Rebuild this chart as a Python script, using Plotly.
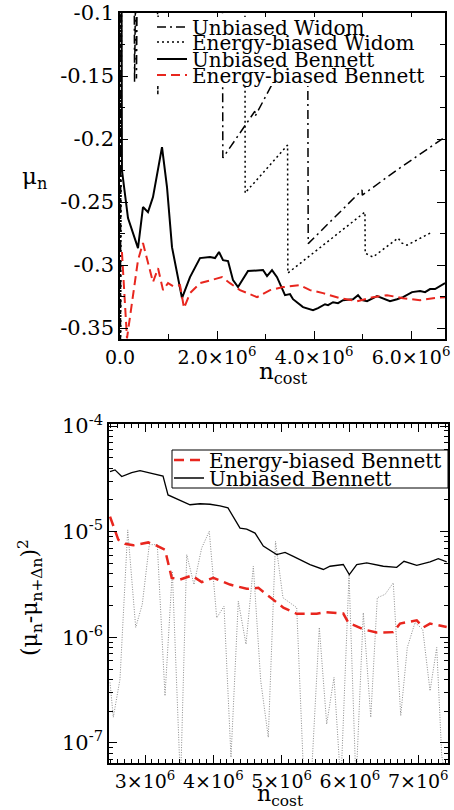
import numpy as np
import plotly.graph_objects as go

# ---------------- data: top panel (n_cost in units of 1e6) ----------------
ub_top_x = [0.03, 0.04, 0.165, 0.371, 0.474, 0.577, 0.680, 0.866, 0.969, 1.072,
            1.278, 1.340, 1.443, 1.649, 1.856, 1.959, 2.041, 2.124, 2.227, 2.330,
            2.433, 2.639, 2.948, 3.031, 3.134, 3.237, 3.402, 3.505, 3.567, 3.773,
            3.979, 4.083, 4.227, 4.289, 4.392, 4.495, 4.598, 4.804, 4.907, 4.990,
            5.093, 5.299, 5.567, 5.711, 5.835, 6.021, 6.186, 6.289, 6.392, 6.495, 6.701]
ub_top_y = [-0.05, -0.2246, -0.2628, -0.2866, -0.2540, -0.2580, -0.2461, -0.2064, -0.2381, -0.2858,
            -0.3263, -0.3199, -0.3096, -0.2945, -0.2937, -0.2945, -0.2897, -0.2961, -0.2969, -0.3120,
            -0.3175, -0.3048, -0.3040, -0.3088, -0.3040, -0.3096, -0.3239, -0.3231, -0.3271, -0.3334,
            -0.3358, -0.3342, -0.3311, -0.3318, -0.3295, -0.3303, -0.3279, -0.3271, -0.3239, -0.3279,
            -0.3287, -0.3247, -0.3287, -0.3271, -0.3255, -0.3215, -0.3207, -0.3215, -0.3191, -0.3191, -0.3144]

eb_top_x = [0.04, 0.144, 0.371, 0.474, 0.680, 0.784, 0.887, 0.990, 1.093, 1.237,
            1.320, 1.443, 1.649, 1.897, 2.103, 2.268, 2.474, 2.825, 3.093, 3.361,
            3.711, 3.918, 4.186, 4.536, 4.887, 5.216, 5.505, 5.835, 6.186, 6.454, 6.701]
eb_top_y = [-0.2897, -0.3581, -0.2961, -0.2826, -0.3136, -0.3025, -0.3199, -0.3144, -0.3168, -0.3160,
            -0.3342, -0.3223, -0.3144, -0.3120, -0.3096, -0.3144, -0.3199, -0.3255, -0.3199, -0.3175,
            -0.3160, -0.3199, -0.3223, -0.3263, -0.3287, -0.3255, -0.3239, -0.3263, -0.3279, -0.3263, -0.3255]

uw_x = [0.005, 0.02, 0.29, 0.30, 0.31, 0.33, 0.34, 0.36, 2.11, 2.12,
        2.78, 2.785, 3.13, 3.87, 3.88, 4.99, 4.995, 5.71, 6.70]
uw_y = [-0.5, -0.05, -0.05, -0.155, -0.05, -0.05, -0.152, -0.05, -0.05, -0.215,
        -0.178, -0.182, -0.157, -0.115, -0.283, -0.2405, -0.2445, -0.2246, -0.1984]

ew_x = [0.0, 0.012, 0.035, 0.77, 0.78, 0.79, 2.575, 2.58, 2.62, 3.455,
        3.46, 5.05, 5.055, 5.216, 5.732, 5.814, 5.918, 6.433]
ew_y = [-0.05, -0.40, -0.05, -0.05, -0.165, -0.05, -0.05, -0.243, -0.241, -0.2048,
        -0.3064, -0.258, -0.2906, -0.2937, -0.2786, -0.2826, -0.2842, -0.2739]

# ---------------- data: bottom panel ----------------
ub_bot_x = [2.488, 2.561, 2.659, 2.805, 2.927, 3.073, 3.220, 3.264, 3.337, 3.512,
            3.659, 3.805, 3.952, 4.098, 4.215, 4.391, 4.489, 4.611, 4.732, 4.928,
            5.050, 5.171, 5.416, 5.611, 5.709, 5.903, 5.991, 6.100, 6.246, 6.489,
            6.685, 6.792, 6.978, 7.173, 7.294, 7.417]
ub_bot_y = [3.71e-5, 3.85e-5, 3.33e-5, 3.62e-5, 3.78e-5, 3.62e-5, 3.45e-5, 3.37e-5, 2.23e-5, 2.00e-5,
            1.80e-5, 1.84e-5, 1.82e-5, 1.76e-5, 1.68e-5, 1.08e-5, 1.06e-5, 9.7e-6, 7.3e-6, 6.07e-6,
            6.38e-6, 5.85e-6, 4.89e-6, 4.39e-6, 4.71e-6, 4.89e-6, 3.93e-6, 4.89e-6, 5.07e-6, 4.71e-6,
            4.60e-6, 5.25e-6, 4.81e-6, 5.18e-6, 5.56e-6, 5.18e-6]

eb_bot_x = [2.488, 2.609, 2.707, 2.829, 3.048, 3.171, 3.293, 3.391, 3.512, 3.684,
            3.830, 4.000, 4.244, 4.489, 4.659, 4.855, 5.025, 5.221, 5.514, 5.635,
            5.903, 5.977, 6.196, 6.392, 6.635, 6.734, 6.978, 7.075, 7.173, 7.417]
eb_bot_y = [1.39e-5, 8.4e-6, 7.7e-6, 7.43e-6, 7.92e-6, 7.38e-6, 6.76e-6, 3.66e-6, 3.52e-6, 3.85e-6,
            3.33e-6, 3.66e-6, 3.16e-6, 2.88e-6, 2.94e-6, 2.33e-6, 1.91e-6, 1.67e-6, 1.67e-6, 1.73e-6,
            1.68e-6, 1.38e-6, 1.19e-6, 1.11e-6, 1.12e-6, 1.35e-6, 1.45e-6, 1.24e-6, 1.35e-6, 1.25e-6]

gray_x = [2.488, 2.536, 2.634, 2.747, 2.864, 2.960, 3.063, 3.180, 3.293, 3.400,
          3.520, 3.611, 3.717, 3.830, 3.941, 4.050, 4.157, 4.259, 4.366, 4.479,
          4.586, 4.694, 4.805, 4.911, 5.020, 5.221, 5.328, 5.430, 5.552, 5.660,
          5.767, 5.867, 5.987, 6.089, 6.196, 6.305, 6.401, 6.514, 6.635, 6.744,
          6.840, 6.953, 7.066, 7.173, 7.271, 7.344, 7.417]
gray_y = [3.74e-7, 1.75e-7, 4.02e-7, 1.04e-5, 1.24e-6, 2.05e-6, 7.54e-6, 7.54e-6, 2.79e-7, 4.22e-6,
          4e-8, 6.07e-6, 3.16e-6, 7.02e-6, 1.01e-5, 1.53e-6, 1.97e-6, 7.3e-8, 2.2e-6, 8.6e-7,
          4.71e-6, 3.88e-7, 1.13e-7, 8.1e-6, 2.37e-6, 1.91e-6, 4e-8, 4e-8, 1.24e-6, 1.51e-7,
          4.17e-7, 4e-8, 3.93e-6, 4e-8, 1.71e-6, 1.75e-7, 2.37e-6, 2.55e-6, 3.28e-6, 1.81e-7,
          8.0e-7, 1.38e-6, 1.19e-6, 3.11e-7, 8.0e-7, 7.6e-8, 4e-8]

top_xticks = [0, 2e6, 4e6, 6e6]
top_xtext = ["0.0", "2.0×10<sup>6</sup>", "4.0×10<sup>6</sup>", "6.0×10<sup>6</sup>"]
top_yticks = [-0.35, -0.3, -0.25, -0.2, -0.15, -0.1]
top_ytext = ["-0.35", "-0.3", "-0.25", "-0.2", "-0.15", "-0.1"]
bot_xticks = [3e6, 4e6, 5e6, 6e6, 7e6]
bot_xtext = ["3×10<sup>6</sup>", "4×10<sup>6</sup>", "5×10<sup>6</sup>", "6×10<sup>6</sup>", "7×10<sup>6</sup>"]
bot_yticks = [1e-7, 1e-6, 1e-5, 1e-4]
bot_ytext = ["10<sup>-7</sup>", "10<sup>-6</sup>", "10<sup>-5</sup>", "10<sup>-4</sup>"]

M = 1e6
W, H = 454, 810
FONT = "DejaVu Serif"
RED = "#e8261e"


def px(v):
    return v / W


def py(v):
    return 1 - v / H


fig = go.Figure()

# top panel
fig.add_trace(go.Scatter(x=np.array(uw_x) * M, y=uw_y, mode="lines", name="Unbiased Widom",
                         line=dict(color="black", width=1.5, dash="9px,4px,2px,4px"),
                         xaxis="x", yaxis="y", legend="legend"))
fig.add_trace(go.Scatter(x=np.array(ew_x) * M, y=ew_y, mode="lines", name="Energy-biased Widom",
                         line=dict(color="black", width=1.5, dash="2px,3px"),
                         xaxis="x", yaxis="y", legend="legend2"))
fig.add_trace(go.Scatter(x=np.array(ub_top_x) * M, y=ub_top_y, mode="lines", name="Unbiased Bennett",
                         line=dict(color="black", width=2),
                         xaxis="x", yaxis="y", legend="legend3"))
fig.add_trace(go.Scatter(x=np.array(eb_top_x) * M, y=eb_top_y, mode="lines", name="Energy-biased Bennett",
                         line=dict(color=RED, width=2, dash="9px,5px"),
                         xaxis="x", yaxis="y", legend="legend4"))

# bottom panel
fig.add_trace(go.Scatter(x=np.array(gray_x) * M, y=gray_y, mode="lines", showlegend=False,
                         line=dict(color="#8c8c8c", width=1, dash="1px,1.5px"),
                         xaxis="x2", yaxis="y2"))
fig.add_trace(go.Scatter(x=np.array(eb_bot_x) * M, y=eb_bot_y, mode="lines", name="Energy-biased Bennett",
                         line=dict(color=RED, width=2.5, dash="10px,6px"),
                         xaxis="x2", yaxis="y2", legend="legend5"))
fig.add_trace(go.Scatter(x=np.array(ub_bot_x) * M, y=ub_bot_y, mode="lines", name="Unbiased Bennett",
                         line=dict(color="black", width=1.3),
                         xaxis="x2", yaxis="y2", legend="legend6"))

axis_common = dict(showline=True, linecolor="black", linewidth=1.5, mirror="allticks",
                   ticks="inside", ticklen=8, tickwidth=1.2, tickcolor="black",
                   showgrid=False, zeroline=False, automargin=False, tickangle=0,
                   ticklabeloverflow="allow")

minor_vals = [k * 10.0 ** e for e in range(-8, -3) for k in range(2, 10)]
tf_y = dict(family=FONT, size=21, color="black")
tf_x = dict(family=FONT, size=19, color="black")

fig.update_layout(
    template="none",
    width=W, height=H,
    margin=dict(l=0, r=0, t=0, b=0, autoexpand=False),
    paper_bgcolor="white", plot_bgcolor="white",
    xaxis=dict(domain=[px(120), px(445)], range=[0, 6.7e6], anchor="y",
               tickmode="array", tickvals=top_xticks, ticktext=top_xtext, tickfont=tf_x,
               minor=dict(dtick=1e6, tick0=0, ticks="inside", ticklen=5, tickcolor="black"),
               **axis_common),
    yaxis=dict(domain=[py(339), py(13)], range=[-0.3587, -0.1], anchor="x",
               tickmode="array", tickvals=top_yticks, ticktext=top_ytext, tickfont=tf_y,
               minor=dict(dtick=0.025, tick0=0, ticks="inside", ticklen=5, tickcolor="black"),
               **axis_common),
    xaxis2=dict(domain=[px(109), px(448)], range=[2.473e6, 7.436e6], anchor="y2",
                tickmode="array", tickvals=bot_xticks, ticktext=bot_xtext, tickfont=tf_x,
                minor=dict(dtick=1e5, tick0=0, ticks="inside", ticklen=4, tickcolor="black"),
                **axis_common),
    yaxis2=dict(domain=[py(763), py(424)], type="log", range=[-7.19, -3.98], anchor="x2",
                tickmode="array", tickvals=bot_yticks, ticktext=bot_ytext, tickfont=tf_y,
                minor=dict(tickmode="array", tickvals=minor_vals, ticks="inside", ticklen=4, tickcolor="black"),
                **axis_common),
)

leg_common = dict(bgcolor="rgba(0,0,0,0)", borderwidth=0, xanchor="left", yanchor="middle",
                  font=dict(family=FONT, size=20, color="black"), itemwidth=30)
fig.update_layout(
    legend=dict(x=px(152), y=py(27), **leg_common),
    legend2=dict(x=px(152), y=py(42), **leg_common),
    legend3=dict(x=px(152), y=py(59), **leg_common),
    legend4=dict(x=px(152), y=py(75), **leg_common),
    legend5=dict(x=px(169), y=py(460), **leg_common),
    legend6=dict(x=px(169), y=py(478), **leg_common),
)

# legend backgrounds
fig.add_shape(type="rect", xref="paper", yref="paper", x0=px(148), x1=px(440), y0=py(86), y1=py(17),
              fillcolor="white", line=dict(width=0), layer="above")
fig.add_shape(type="rect", xref="paper", yref="paper", x0=px(172), x1=px(448), y0=py(488), y1=py(450),
              fillcolor="white", line=dict(width=1, color="black"), layer="above")

ann_font = dict(family=FONT, size=23, color="black")
fig.add_annotation(text="μ<sub>n</sub>", x=px(34), y=py(178), xref="paper", yref="paper",
                   xanchor="center", yanchor="middle", showarrow=False, font=ann_font)
fig.add_annotation(text="n<sub>cost</sub>", x=px(283), y=py(373), xref="paper", yref="paper",
                   xanchor="center", yanchor="middle", showarrow=False, font=ann_font)
fig.add_annotation(text="n<sub>cost</sub>", x=px(280), y=py(795), xref="paper", yref="paper",
                   xanchor="center", yanchor="middle", showarrow=False,
                   font=dict(family=FONT, size=22, color="black"))
fig.add_annotation(text="(μ<sub>n</sub>-μ<sub>n+Δn</sub>)<sup>2</sup>", x=px(30), y=py(598),
                   xref="paper", yref="paper", xanchor="center", yanchor="middle",
                   showarrow=False, textangle=-90,
                   font=dict(family=FONT, size=22, color="black"))

fig.write_html("out.html", config={"displayModeBar": False},
               post_script="document.body.style.margin='0';document.body.style.overflow='hidden';")
